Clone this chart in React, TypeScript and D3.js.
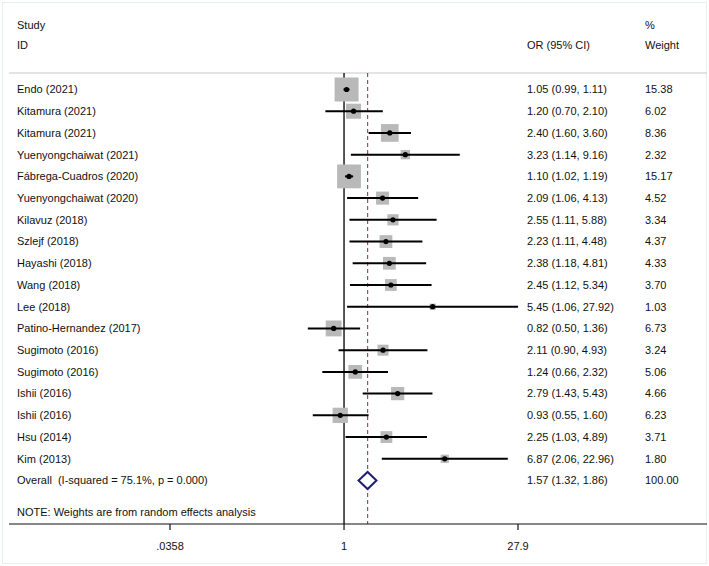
import React from "react";
import * as d3 from "d3";

const studies = [
  "Endo (2021)", "Kitamura (2021)", "Kitamura (2021)", "Yuenyongchaiwat (2021)",
  "Fábrega-Cuadros (2020)", "Yuenyongchaiwat (2020)", "Kilavuz (2018)", "Szlejf (2018)",
  "Hayashi (2018)", "Wang (2018)", "Lee (2018)", "Patino-Hernandez (2017)",
  "Sugimoto (2016)", "Sugimoto (2016)", "Ishii (2016)", "Ishii (2016)", "Hsu (2014)", "Kim (2013)",
];
const orValues = [1.05, 1.20, 2.40, 3.23, 1.10, 2.09, 2.55, 2.23, 2.38, 2.45, 5.45, 0.82, 2.11, 1.24, 2.79, 0.93, 2.25, 6.87];
const lowerCI = [0.99, 0.70, 1.60, 1.14, 1.02, 1.06, 1.11, 1.11, 1.18, 1.12, 1.06, 0.50, 0.90, 0.66, 1.43, 0.55, 1.03, 2.06];
const upperCI = [1.11, 2.10, 3.60, 9.16, 1.19, 4.13, 5.88, 4.48, 4.81, 5.34, 27.92, 1.36, 4.93, 2.32, 5.43, 1.60, 4.89, 22.96];
const weights = [15.38, 6.02, 8.36, 2.32, 15.17, 4.52, 3.34, 4.37, 4.33, 3.70, 1.03, 6.73, 3.24, 5.06, 4.66, 6.23, 3.71, 1.80];
const overall = { or: 1.57, lo: 1.32, hi: 1.86, weight: 100.0, label: "Overall  (I-squared = 75.1%, p = 0.000)" };
const tickValues = [0.0358, 1, 27.9];
const tickLabels = [".0358", "1", "27.9"];

const W = 709;
const H = 566;
const FONT = "Liberation Sans, Arial, sans-serif";
const TXT = "#111";

export default function App() {
  const x = d3.scaleLog().domain([0.0358, 27.9]).range([170, 518]);
  const rowIdx = d3.range(studies.length + 1);
  const y = d3.scaleLinear().domain([0, studies.length]).range([89.5, 480.5]);
  const maxW = d3.max(weights) as number;
  const boxSize = d3.scaleSqrt().domain([0, maxW]).range([0, 24]);
  const colStudy = 17;
  const colOR = 527;
  const colW = 645;
  const axisY = 524;
  const topY = 73;

  return (
    <svg width={W} height={H} style={{ position: "absolute", left: 0, top: 0, background: "#fff" }} fontFamily={FONT} fontSize={11}>
      <rect x={2.5} y={2.5} width={W - 5} height={H - 5} fill="#fff" stroke="#e8eef0" strokeWidth={1} />
      {/* headers */}
      <text x={colStudy} y={25} dy="0.35em" fill={TXT}>Study</text>
      <text x={colStudy} y={45} dy="0.35em" fill={TXT}>ID</text>
      <text x={colOR} y={45} dy="0.35em" fill={TXT}>OR (95% CI)</text>
      <text x={colW} y={25} dy="0.35em" fill={TXT}>%</text>
      <text x={colW} y={45} dy="0.35em" fill={TXT}>Weight</text>
      <line x1={9} x2={707} y1={topY} y2={topY} stroke="#c8c8c8" strokeWidth={1} />

      {/* reference lines */}
      <line x1={x(1)} x2={x(1)} y1={topY} y2={axisY} stroke="#111" strokeWidth={1.4} />
      <line x1={x(overall.or)} x2={x(overall.or)} y1={topY} y2={axisY} stroke="#b0485a" strokeWidth={1.2} strokeDasharray="4,3" />

      {/* study rows */}
      {studies.map((s, i) => {
        const cy = y(i);
        const b = boxSize(weights[i]);
        return (
          <g key={i}>
            <rect x={x(orValues[i]) - b / 2} y={cy - b / 2} width={b} height={b} fill="#b9b9b9" />
            <line x1={x(lowerCI[i])} x2={x(upperCI[i])} y1={cy} y2={cy} stroke="#000" strokeWidth={2} />
            <circle cx={x(orValues[i])} cy={cy} r={2.6} fill="#000" />
            <text x={colStudy} y={cy} dy="0.35em" fill={TXT}>{s}</text>
            <text x={colOR} y={cy} dy="0.35em" fill={TXT}>
              {`${orValues[i].toFixed(2)} (${lowerCI[i].toFixed(2)}, ${upperCI[i].toFixed(2)})`}
            </text>
            <text x={colW} y={cy} dy="0.35em" fill={TXT}>{weights[i].toFixed(2)}</text>
          </g>
        );
      })}

      {/* overall */}
      {(() => {
        const cy = y(rowIdx[rowIdx.length - 1]);
        const h = 8.5;
        const pts = [
          [x(overall.lo), cy], [x(overall.or), cy - h], [x(overall.hi), cy], [x(overall.or), cy + h],
        ];
        return (
          <g>
            <polygon points={pts.map((p) => p.join(",")).join(" ")} fill="#fff" stroke="#1f1f6e" strokeWidth={2} />
            <text x={colStudy} y={cy} dy="0.35em" fill={TXT} style={{ whiteSpace: "pre" }}>{overall.label}</text>
            <text x={colOR} y={cy} dy="0.35em" fill={TXT}>
              {`${overall.or.toFixed(2)} (${overall.lo.toFixed(2)}, ${overall.hi.toFixed(2)})`}
            </text>
            <text x={colW} y={cy} dy="0.35em" fill={TXT}>{overall.weight.toFixed(2)}</text>
          </g>
        );
      })()}

      <text x={colStudy} y={512} dy="0.35em" fill={TXT}>NOTE: Weights are from random effects analysis</text>

      {/* axis */}
      <line x1={9} x2={707} y1={axisY} y2={axisY} stroke="#111" strokeWidth={1.2} />
      {tickValues.map((t, i) => (
        <g key={t}>
          <line x1={x(t)} x2={x(t)} y1={axisY} y2={axisY + 6} stroke="#111" strokeWidth={1.2} />
          <text x={x(t)} y={546} dy="0.35em" textAnchor="middle" fill={TXT}>{tickLabels[i]}</text>
        </g>
      ))}
    </svg>
  );
}
